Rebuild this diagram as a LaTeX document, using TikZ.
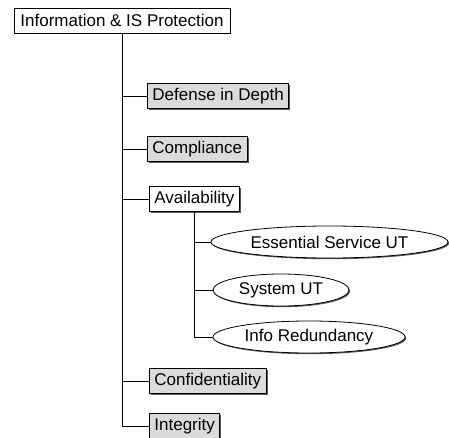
\documentclass[tikz,border=0pt]{standalone}
\usepackage{fontspec}
\setmainfont{Liberation Sans}
\usetikzlibrary{shadows, shapes.geometric}

\tikzset{
	topicbox/.style={shape=rectangle, draw, line width=0.8pt, fill=white, minimum height=25pt, inner xsep=5pt, inner ysep=0pt, font=\fontsize{17}{19}\selectfont, drop shadow={shadow xshift=1.4pt, shadow yshift=-1.4pt, fill=black!65, opacity=1}},
	greybox/.style={topicbox, fill=black!14},
	utoval/.style={shape=ellipse, draw, line width=0.8pt, fill=white, minimum height=32pt, inner sep=0pt, font=\fontsize{17}{19}\selectfont, drop shadow={shadow xshift=1.2pt, shadow yshift=-1.2pt, fill=black!65, opacity=1}},
	branch/.style={line width=0.9pt}
}

\begin{document}
\begin{tikzpicture}[x=1pt, y=-1pt]
	\useasboundingbox (0, 0) rectangle (449, 438);
	% Paths, nodes and wires:
	\node[topicbox, minimum width=216pt] (root) at (122, 20.5){Information \& IS Protection};
	\node[greybox, anchor=west] (defense) at (147, 96){Defense in Depth};
	\node[greybox, anchor=west] (compliance) at (147, 149){Compliance};
	\node[topicbox, anchor=west] (avail) at (149, 199){Availability};
	\node[greybox, anchor=west] (confid) at (149, 381){Confidentiality};
	\node[greybox, anchor=west] (integ) at (149, 426){Integrity};
	\node[utoval, minimum width=237pt] (essential) at (329.5, 242){Essential Service UT};
	\node[utoval, minimum width=136pt] (sysut) at (281, 290){System UT};
	\node[utoval, minimum width=192pt] (inforedund) at (309, 337){Info Redundancy};
	\draw[branch] (root.south) |- (defense.west);
	\draw[branch] (root.south) |- (compliance.west);
	\draw[branch] (root.south) |- (avail.west);
	\draw[branch] (root.south) |- (confid.west);
	\draw[branch] (root.south) |- (integ.west);
	\draw[branch] (avail.south) |- (essential.west);
	\draw[branch] (avail.south) |- (sysut.west);
	\draw[branch] (avail.south) |- (inforedund.west);
\end{tikzpicture}
\end{document}
